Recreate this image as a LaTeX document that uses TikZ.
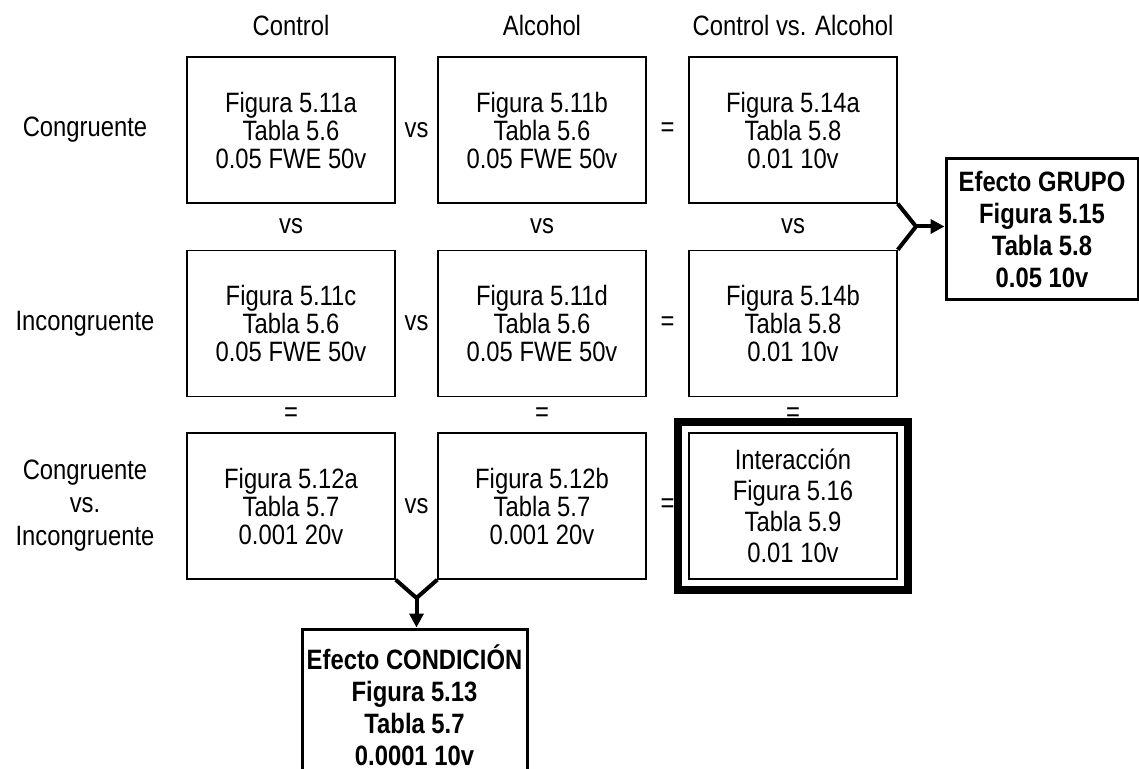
\documentclass[tikz,border=0pt]{standalone}
\usepackage{fontspec}
\setmainfont{Liberation Sans}[FakeStretch=0.85]
\usetikzlibrary{arrows.meta,fit}

\begin{document}
\begin{tikzpicture}[x=0.5pt, y=-0.5pt, >={Triangle[length=7pt,width=7pt]},
  cell/.style={draw, line width=0.75pt, minimum width=104pt, minimum height=73pt, inner sep=0pt, align=center, font=\fontsize{14}{14}\selectfont},
  result/.style={draw, line width=1.5pt, inner sep=0pt, align=center, font=\fontsize{14}{16}\selectfont\bfseries},
  frame/.style={draw, line width=4pt, inner sep=5pt},
  lbl/.style={align=center, font=\fontsize{14}{16.5}\selectfont},
  fork/.style={line width=2pt}]
  \useasboundingbox (0,0) rectangle (1139,769);
  \clip (0,0) rectangle (1139,769);

  \node[lbl] (hctl) at (291,25) {Control};
  \node[lbl] (halc) at (542,25) {Alcohol};
  \node[lbl] (hdif) at (793,25) {Control vs. Alcohol};

  \node[lbl] (lcon) at (85,130) {Congruente};
  \node[lbl] (linc) at (85,323.5) {Incongruente};
  \node[lbl] (ldif) at (85,506) {Congruente\\vs.\\Incongruente};

  \node[cell] (a1) at (291,130) {Figura 5.11a\\Tabla 5.6\\0.05 FWE 50v};
  \node[cell] (a2) at (542,130) {Figura 5.11b\\Tabla 5.6\\0.05 FWE 50v};
  \node[cell] (a3) at (793,130) {Figura 5.14a\\Tabla 5.8\\0.01 10v};
  \node[cell] (b1) at (291,323.5) {Figura 5.11c\\Tabla 5.6\\0.05 FWE 50v};
  \node[cell] (b2) at (542,323.5) {Figura 5.11d\\Tabla 5.6\\0.05 FWE 50v};
  \node[cell] (b3) at (793,323.5) {Figura 5.14b\\Tabla 5.8\\0.01 10v};
  \node[cell] (c1) at (291,506) {Figura 5.12a\\Tabla 5.7\\0.001 20v};
  \node[cell] (c2) at (542,506) {Figura 5.12b\\Tabla 5.7\\0.001 20v};
  \node[cell, font=\fontsize{14}{15.5}\selectfont] (inter) at (793,506) {Interacción\\Figura 5.16\\Tabla 5.9\\0.01 10v};

  \node[lbl] (va1) at (416.5,130) {vs};
  \node[lbl] (ea1) at (667.5,130) {=};
  \node[lbl] (vb1) at (416.5,323.5) {vs};
  \node[lbl] (eb1) at (667.5,323.5) {=};
  \node[lbl] (vc1) at (416.5,506) {vs};
  \node[lbl] (ec1) at (667.5,506) {=};
  \node[lbl] (vab1) at (291,226.5) {vs};
  \node[lbl] (vab2) at (542,226.5) {vs};
  \node[lbl] (vab3) at (793,226.5) {vs};
  \node[lbl] (ebc1) at (291,415) {=};
  \node[lbl] (ebc2) at (542,415) {=};
  \node[lbl] (ebc3) at (793,415) {=};

  \node[frame, fit=(inter)] (interfr) {};

  \node[result, minimum width=96pt, minimum height=70.5pt] (grupo) at (1042,229.5) {Efecto GRUPO\\Figura 5.15\\Tabla 5.8\\0.05 10v};
  \node[result, minimum width=112.5pt, minimum height=76pt] (cond) at (414.5,705) {Efecto CONDICIÓN\\Figura 5.13\\Tabla 5.7\\0.0001 10v};

  \coordinate (gj) at (916,226.5);
  \coordinate (cj) at (416.5,598);
  \draw[fork] (a3.south east) -- (gj) -- (b3.north east);
  \draw[fork,->] (gj) -- (gj -| grupo.west);
  \draw[fork] (c1.south east) -- (cj) -- (c2.south west);
  \draw[fork,->] (cj) -- (cj |- cond.north);
\end{tikzpicture}
\end{document}
